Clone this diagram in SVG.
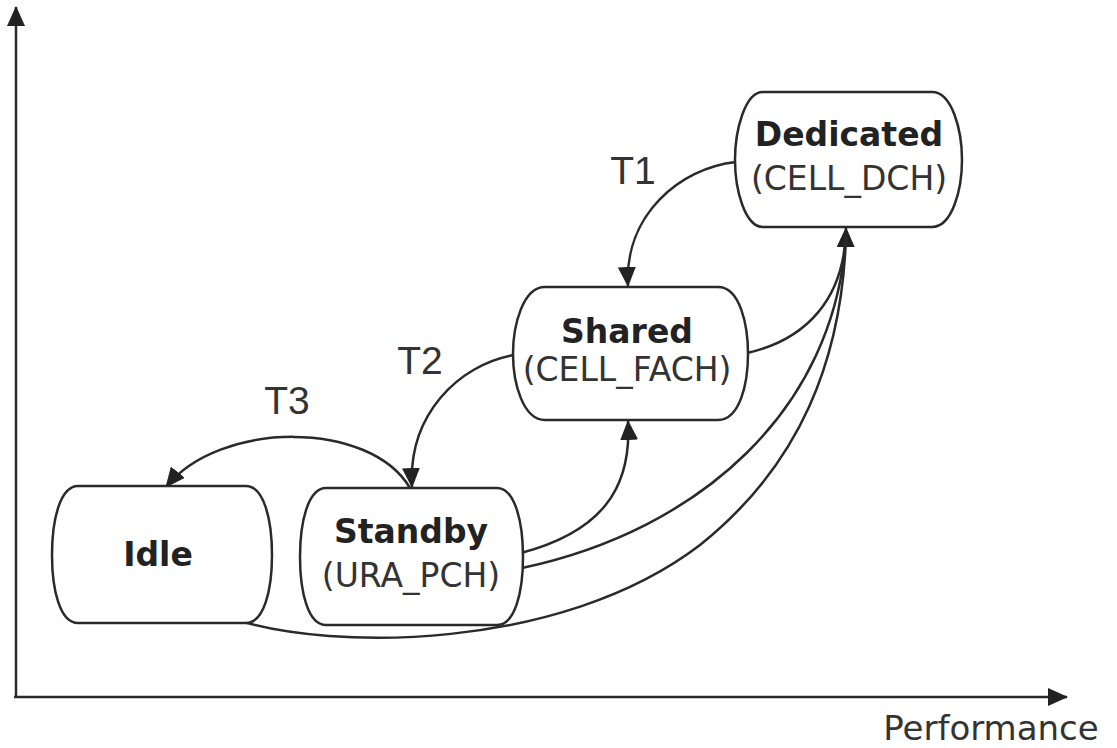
<svg xmlns="http://www.w3.org/2000/svg" width="1117" height="748" viewBox="0 0 1117 748">
<style>
.node{fill:#fff;stroke:#2a2a2a;stroke-width:2.5}
.conn{fill:none;stroke:#2a2a2a;stroke-width:2.5}
.b{font-family:"DejaVu Sans",sans-serif;font-weight:bold;font-size:33px;fill:#222;text-anchor:middle}
.r{font-family:"DejaVu Sans",sans-serif;font-size:33px;fill:#333;text-anchor:middle}
.lbl{font-family:"Liberation Sans",Arial,sans-serif;font-size:39px;fill:#333;text-anchor:middle}
.ax{font-family:"DejaVu Sans",sans-serif;font-size:34px;fill:#333;text-anchor:middle}
</style>
<defs>
<marker id="ax" viewBox="0 0 20 18" refX="19" refY="9" markerWidth="20" markerHeight="18" markerUnits="userSpaceOnUse" orient="auto">
<path d="M0,0 L20,9 L0,18 Z" fill="#222"/>
</marker>
</defs>
<rect width="1117" height="748" fill="#fff"/>
<g id="axes">
<line x1="16" y1="697" x2="16" y2="7" class="conn" stroke-width="3" marker-end="url(#ax)"/>
<line x1="14" y1="697" x2="1067" y2="697" class="conn" stroke-width="3" marker-end="url(#ax)"/>
<text x="991" y="740" class="ax">Performance</text>
</g>
<g id="connectors">
<path class="conn" d="M736,162 C680,168 624,215 628,286" marker-end="url(#ax)"/>
<path class="conn" d="M514,355 C458,365 408,415 412,487" marker-end="url(#ax)"/>
<path class="conn" d="M410,488 C370,420 220,420 166,487" marker-end="url(#ax)"/>
<path class="conn" d="M521,553 C600,532 632,490 628,421" marker-end="url(#ax)"/>
<path class="conn" d="M747,353 C805,340 845,300 846,228" marker-end="url(#ax)"/>
<path class="conn" d="M522,568 C700,530 835,410 846,236"/>
<path class="conn" d="M237,620 C330,650 560,652 700,545 C800,465 842,360 846,236"/>
<text x="633" y="184" class="lbl">T1</text>
<text x="420" y="374" class="lbl">T2</text>
<text x="287" y="414" class="lbl">T3</text>
</g>
<g id="dedicated">
<path class="node" d="M763,92 H932 C952,92 962,130 962,160 C962,190 952,227 932,227 H763 C745,227 735,190 735,160 C735,130 745,92 763,92 Z"/>
<text x="849" y="146" class="b">Dedicated</text>
<text x="849" y="190" class="r">(CELL_DCH)</text>
</g>
<g id="shared">
<path class="node" d="M545,287 H718 C740,287 748,325 748,354 C748,383 740,420 718,420 H545 C523,420 513,383 513,354 C513,325 523,287 545,287 Z"/>
<text x="627" y="343" class="b">Shared</text>
<text x="627" y="381" class="r">(CELL_FACH)</text>
</g>
<g id="idle">
<path class="node" d="M78,486 H246 C264,486 272,520 272,555 C272,590 264,623 246,623 H78 C60,623 52,590 52,555 C52,520 60,486 78,486 Z"/>
<text x="158" y="566" class="b">Idle</text>
</g>
<g id="standby">
<path class="node" d="M326,488 H497 C515,488 523,522 523,557 C523,592 515,625 497,625 H326 C308,625 300,592 300,557 C300,522 308,488 326,488 Z"/>
<text x="411" y="543" class="b">Standby</text>
<text x="411" y="587" class="r">(URA_PCH)</text>
</g>
</svg>
